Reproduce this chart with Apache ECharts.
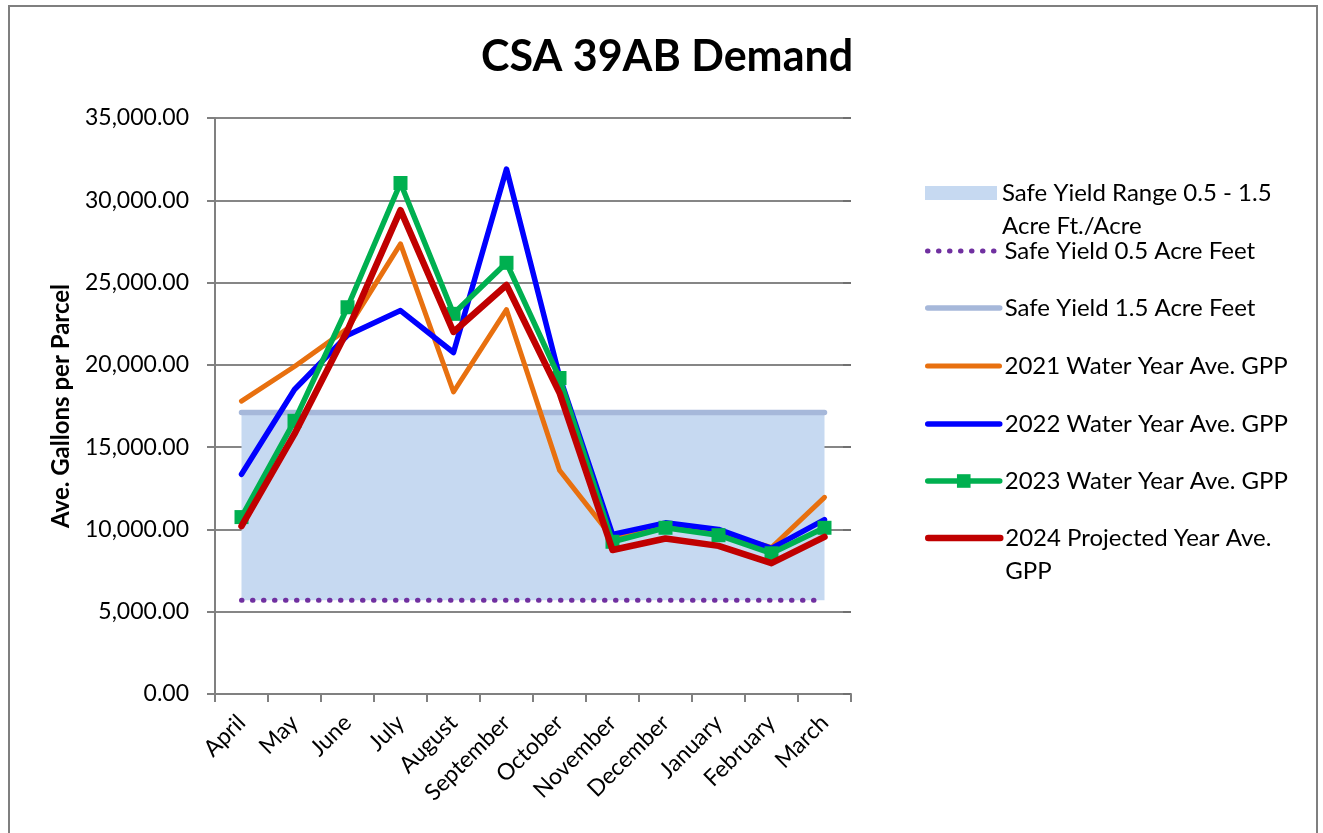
<!DOCTYPE html>
<html>
<head>
<meta charset="utf-8">
<script src="https://cdn.jsdelivr.net/npm/echarts@6/dist/echarts.min.js"></script>
<style>
  html, body { margin: 0; padding: 0; background: #fff; }
  .frame { position: absolute; left: 8px; top: 5px; width: 1306px; height: 900px; border: 2px solid #7f7f7f; }
  #myEchart { position: absolute; left: 0; top: 0; width: 1323px; height: 833px; }
</style>
</head>
<body>
<div class="frame"></div>
<div id="myEchart"></div>
<script>
  // months on the x axis
  var months = ['April', 'May', 'June', 'July', 'August', 'September', 'October', 'November', 'December', 'January', 'February', 'March'];
  // y axis ticks
  var yMin = 0, yMax = 35000, yStep = 5000;

  // safe yield lines (gallons per parcel)
  var safeLow = [5700, 5700, 5700, 5700, 5700, 5700, 5700, 5700, 5700, 5700, 5700, 5700];
  var safeHigh = [17100, 17100, 17100, 17100, 17100, 17100, 17100, 17100, 17100, 17100, 17100, 17100];

  // water year averages
  var wy2021 = [17800, 19900, 22200, 27350, 18350, 23350, 13600, 9500, 10100, 9800, 8900, 11950];
  var wy2022 = [13350, 18500, 21800, 23300, 20750, 31900, 19300, 9700, 10400, 10000, 8850, 10600];
  var wy2023 = [10750, 16600, 23500, 31050, 23100, 26200, 19200, 9250, 10100, 9650, 8550, 10100];
  var wy2024 = [10200, 15800, 22100, 29400, 22000, 24850, 18300, 8750, 9450, 9000, 7950, 9550];

  var names = [
    'Safe Yield Range 0.5 - 1.5 Acre Ft./Acre',
    'Safe Yield 0.5 Acre Feet',
    'Safe Yield 1.5 Acre Feet',
    '2021 Water Year Ave. GPP',
    '2022 Water Year Ave. GPP',
    '2023 Water Year Ave. GPP',
    '2024 Projected Year Ave. GPP'
  ];
  // legend text, wrapped like the original
  var legendText = {};
  legendText[names[0]] = '\nSafe Yield Range 0.5 - 1.5\nAcre Ft./Acre';
  legendText[names[6]] = '\n2024 Projected Year Ave.\nGPP';

  var font = 'Lato, "Open Sans", sans-serif';
  var band = safeHigh.map(function (v, i) { return v - safeLow[i]; });

  var myEchart = echarts.init(document.getElementById('myEchart'));

  var lineH = 33;
  var legendY = [193, 251, 308, 366, 424, 481, 538];
  var legends = names.map(function (n, i) {
    var lines = legendText[n] ? 3 : 1;
    var item = { name: n };
    if (i === 0) {
      item.icon = 'rect';
    } else if (i !== 5) {
      // plain line, no marker in the key
      item.itemStyle = { color: 'transparent', borderColor: 'transparent', borderWidth: 0 };
    }
    return {
      left: 925,
      top: legendY[i] - lines * lineH / 2,
      orient: 'vertical',
      padding: 0,
      itemWidth: 72,
      itemHeight: i === 5 ? 17 : 14,
      itemGap: 5,
      selectedMode: false,
      data: [item],
      lineStyle: { width: 'inherit', cap: 'round' },
      formatter: function (name) { return legendText[name] || name; },
      textStyle: { fontFamily: font, fontSize: 24, color: '#000', lineHeight: lineH }
    };
  });

  var option = {
    animation: false,
    title: {
      text: 'CSA 39AB Demand',
      left: 476,
      top: 31,
      textStyle: { fontFamily: font, fontSize: 43, fontWeight: 'bold', color: '#000' }
    },
    legend: legends,
    grid: { left: 215, right: 472, top: 118, bottom: 139 },
    xAxis: {
      type: 'category',
      data: months,
      boundaryGap: true,
      axisLine: { lineStyle: { color: '#808080', width: 2 } },
      axisTick: { show: true, length: 8, lineStyle: { color: '#808080', width: 2 } },
      axisLabel: { interval: 0, rotate: 45, margin: 25, fontFamily: font, fontSize: 23, color: '#000' }
    },
    yAxis: [{
      type: 'value',
      min: yMin,
      max: yMax,
      interval: yStep,
      name: 'Ave. Gallons per Parcel',
      nameLocation: 'middle',
      nameRotate: 90,
      nameGap: 142,
      nameTextStyle: { fontFamily: font, fontSize: 24, fontWeight: 'bold', color: '#000' },
      axisLine: { show: true, lineStyle: { color: '#808080', width: 2 } },
      axisTick: { show: true, length: 8, lineStyle: { color: '#808080', width: 2 } },
      axisLabel: {
        margin: 26,
        fontFamily: font, fontSize: 23, color: '#000',
        formatter: function (v) { return v.toLocaleString('en-US', { minimumFractionDigits: 2, maximumFractionDigits: 2 }); }
      },
      splitLine: { lineStyle: { color: '#868686', width: 2 } }
    }, {
      type: 'value',
      position: 'right',
      min: yMin,
      max: yMax,
      interval: yStep,
      axisLine: { show: false },
      axisTick: { show: true, inside: true, length: 8, lineStyle: { color: '#707070', width: 2 } },
      axisLabel: { show: false },
      splitLine: { show: false }
    }],
    series: [
      {
        name: 'base', type: 'line', stack: 'band', data: safeLow,
        symbol: 'none', silent: true, lineStyle: { width: 0 }, z: 1
      },
      {
        name: names[0], type: 'line', stack: 'band', data: band,
        symbol: 'none', silent: true, color: '#C6D9F1',
        lineStyle: { width: 0 }, areaStyle: { color: '#C6D9F1', opacity: 1 }, z: 1
      },
      {
        name: names[1], type: 'line', data: safeLow, symbol: 'none', color: '#7030A0', z: 2,
        lineStyle: { width: 5, type: [0.5, 10.5], cap: 'round', color: '#7030A0' }
      },
      {
        name: names[2], type: 'line', data: safeHigh, symbol: 'none', color: '#A6B8DA', z: 2,
        lineStyle: { width: 5.5, cap: 'round', color: '#A6B8DA' }
      },
      {
        name: names[3], type: 'line', data: wy2021, symbol: 'none', color: '#E8700F', z: 3,
        lineStyle: { width: 5, cap: 'round', join: 'round' }
      },
      {
        name: names[4], type: 'line', data: wy2022, symbol: 'none', color: '#0000FF', z: 4,
        lineStyle: { width: 5.5, cap: 'round', join: 'round' }
      },
      {
        name: names[5], type: 'line', data: wy2023, symbol: 'rect', symbolSize: 14, showSymbol: true,
        color: '#00B050', z: 5,
        lineStyle: { width: 5.5, cap: 'round', join: 'round' }
      },
      {
        name: names[6], type: 'line', data: wy2024, symbol: 'none', color: '#C00000', z: 6,
        lineStyle: { width: 6.5, cap: 'round', join: 'round' }
      }
    ]
  };

  myEchart.setOption(option);
</script>
</body>
</html>
